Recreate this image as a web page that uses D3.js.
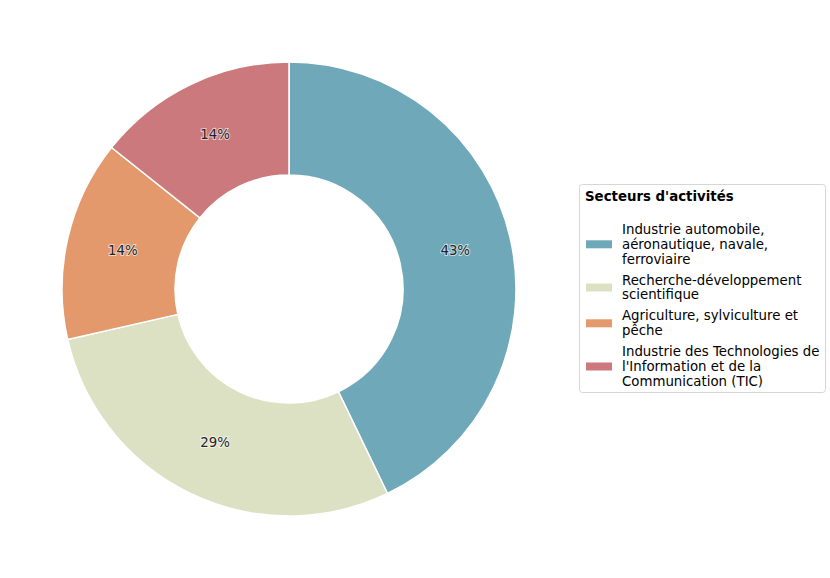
<!DOCTYPE html>
<html>
<head>
<meta charset="utf-8">
<script src="https://cdn.jsdelivr.net/npm/d3@7"></script>
<style>
  body { margin: 0; background: #fff; }
  text { font-family: "DejaVu Sans", sans-serif; }
</style>
</head>
<body>
<div id="chart"></div>
<script>
const categories = [
  "Industrie automobile, aéronautique, navale, ferroviaire",
  "Recherche-développement scientifique",
  "Agriculture, sylviculture et pêche",
  "Industrie des Technologies de l'Information et de la Communication (TIC)"
];
const legendLines = [
  ["Industrie automobile,", "aéronautique, navale,", "ferroviaire"],
  ["Recherche-développement", "scientifique"],
  ["Agriculture, sylviculture et", "pêche"],
  ["Industrie des Technologies de", "l'Information et de la", "Communication (TIC)"]
];
const values = [3, 2, 1, 1];
const colors = ["#6fa8b9", "#dde1c3", "#e3996b", "#cb797c"];
const legendTitle = "Secteurs d'activités";

const width = 830;
const height = 578;
const cx = 289;
const cy = 289;
const outerR = 227;
const innerR = 114;
const fontSize = 13.33;

const svg = d3.select("#chart")
  .append("svg")
  .attr("width", width)
  .attr("height", height)
  .attr("viewBox", `0 0 ${width} ${height}`);

const pie = d3.pie()
  .sort(null)
  .value(d => d);

const arc = d3.arc()
  .innerRadius(innerR)
  .outerRadius(outerR);

const labelArc = d3.arc()
  .innerRadius((innerR + outerR) / 2)
  .outerRadius((innerR + outerR) / 2);

const total = d3.sum(values);
const arcs = pie(values);

const donut = svg.append("g")
  .attr("transform", `translate(${cx}, ${cy})`);

donut.selectAll("path")
  .data(arcs)
  .enter()
  .append("path")
  .attr("d", arc)
  .attr("fill", (d, i) => colors[i])
  .attr("stroke", "#fff")
  .attr("stroke-width", 1.5)
  .attr("stroke-linejoin", "bevel");

donut.selectAll("text")
  .data(arcs)
  .enter()
  .append("text")
  .attr("transform", d => `translate(${labelArc.centroid(d)})`)
  .attr("text-anchor", "middle")
  .attr("dy", "0.3em")
  .attr("font-size", fontSize)
  .attr("fill", "#222")
  .attr("stroke", "rgba(255,255,255,0.6)")
  .attr("stroke-width", 2)
  .attr("paint-order", "stroke")
  .text(d => `${Math.round(d.value / total * 100)}%`);

// legend
const legend = svg.append("g");
const lx = 579;
const ly = 184;
const lineH = 14.8;

legend.append("rect")
  .attr("x", lx + 0.5)
  .attr("y", ly + 0.5)
  .attr("width", 246)
  .attr("height", 208)
  .attr("rx", 3)
  .attr("fill", "#fff")
  .attr("stroke", "#d6d6d6");

legend.append("text")
  .attr("x", lx + 6)
  .attr("y", ly + 17)
  .attr("font-size", fontSize)
  .attr("font-weight", "bold")
  .attr("fill", "#000")
  .text(legendTitle);

let y = ly + 50;
legendLines.forEach((lines, i) => {
  const g = legend.append("g");
  lines.forEach((t, j) => {
    g.append("text")
      .attr("x", lx + 43)
      .attr("y", y + j * lineH)
      .attr("font-size", fontSize)
      .attr("fill", "#000")
      .text(t);
  });
  const mid = y + (lines.length - 1) * lineH / 2 - 4.5;
  g.append("rect")
    .attr("x", lx + 7)
    .attr("y", mid - 4)
    .attr("width", 26)
    .attr("height", 8)
    .attr("fill", colors[i]);
  y += lines.length * lineH + 6.2;
});
</script>
</body>
</html>
